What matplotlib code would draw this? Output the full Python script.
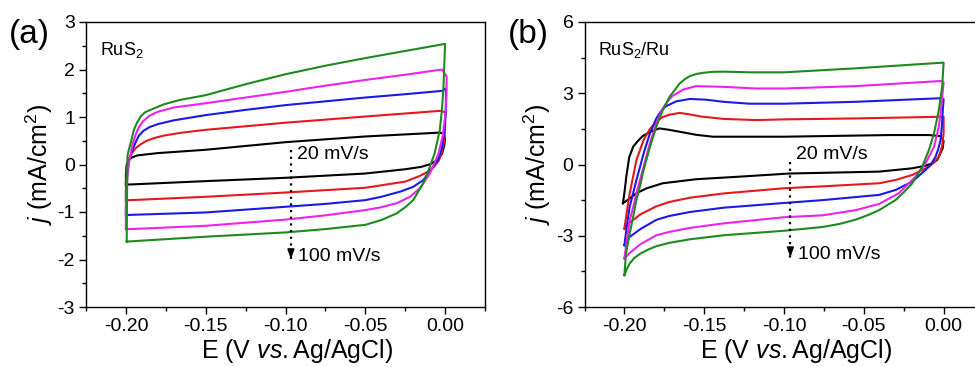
import matplotlib
matplotlib.use("Agg")
import matplotlib.pyplot as plt
from matplotlib.ticker import MultipleLocator

plt.rcParams['font.family'] = ['Liberation Sans', 'DejaVu Sans']
plt.rcParams['mathtext.fontset'] = 'custom'
plt.rcParams['mathtext.rm'] = 'Liberation Sans'
plt.rcParams['mathtext.it'] = 'Liberation Sans:italic'
plt.rcParams['axes.unicode_minus'] = False

rates = ['20 mV/s', '40 mV/s', '60 mV/s', '80 mV/s', '100 mV/s']
colors = ['black', '#e8171c', '#1a1ae6', '#ee22ee', '#1e8a1e']

# (a) RuS2 : closed CV loops, E (V) and j (mA/cm2)
a_E_20 = [-0.2, -0.2, -0.1995, -0.198, -0.196, -0.193, -0.188, -0.18, -0.15, -0.1, -0.05, -0.004, -0.001, 0.0, -0.0005, -0.002, -0.005, -0.009, -0.015, -0.025, -0.05, -0.1, -0.15, -0.197, -0.2]
a_j_20 = [-0.42, -0.2, 0.0, 0.1, 0.15, 0.19, 0.21, 0.24, 0.31, 0.47, 0.59, 0.67, 0.66, 0.55, 0.4, 0.22, 0.09, 0.01, -0.05, -0.1, -0.19, -0.28, -0.35, -0.42, -0.42]
a_E_40 = [-0.2, -0.2, -0.1995, -0.198, -0.196, -0.194, -0.191, -0.187, -0.182, -0.176, -0.165, -0.15, -0.1, -0.05, -0.003, 0.0, 0.0, -0.0005, -0.002, -0.004, -0.007, -0.0096, -0.0158, -0.025, -0.05, -0.1, -0.15, -0.197, -0.2]
a_j_40 = [-0.75, -0.4, -0.05, 0.12, 0.25, 0.34, 0.42, 0.5, 0.56, 0.61, 0.67, 0.73, 0.88, 1.01, 1.13, 1.1, 0.8, 0.5, 0.25, 0.08, -0.05, -0.13, -0.24, -0.36, -0.49, -0.59, -0.68, -0.75, -0.75]
a_E_60 = [-0.2, -0.2, -0.1995, -0.198, -0.196, -0.194, -0.192, -0.189, -0.185, -0.18, -0.17, -0.15, -0.125, -0.1, -0.075, -0.05, -0.025, -0.002, 0.0005, 0.0005, -0.0005, -0.002, -0.004, -0.0075, -0.0137, -0.02, -0.028, -0.04, -0.05, -0.075, -0.1, -0.15, -0.197, -0.2]
a_j_60 = [-1.07, -0.6, -0.2, 0.1, 0.3, 0.46, 0.6, 0.71, 0.79, 0.85, 0.93, 1.04, 1.15, 1.25, 1.33, 1.41, 1.48, 1.55, 1.6, 1.1, 0.7, 0.35, 0.12, -0.05, -0.33, -0.47, -0.57, -0.68, -0.75, -0.83, -0.89, -1.01, -1.06, -1.07]
a_E_80 = [-0.2, -0.2, -0.1995, -0.198, -0.196, -0.194, -0.192, -0.189, -0.185, -0.18, -0.17, -0.15, -0.125, -0.1, -0.075, -0.05, -0.025, -0.002, 0.001, 0.0008, 0.0, -0.0015, -0.004, -0.007, -0.0096, -0.0158, -0.022, -0.03, -0.04, -0.05, -0.075, -0.1, -0.15, -0.197, -0.2]
a_j_80 = [-1.36, -0.9, -0.4, 0.05, 0.4, 0.62, 0.78, 0.92, 1.03, 1.11, 1.2, 1.29, 1.41, 1.53, 1.66, 1.78, 1.89, 2.0, 1.85, 1.4, 1.0, 0.6, 0.25, 0.0, -0.19, -0.5, -0.68, -0.81, -0.9, -0.96, -1.07, -1.16, -1.29, -1.36, -1.36]
a_E_100 = [-0.1995, -0.1993, -0.199, -0.198, -0.197, -0.195, -0.193, -0.1908, -0.188, -0.1825, -0.176, -0.166, -0.15, -0.125, -0.1, -0.075, -0.05, -0.025, 0.0, -0.0005, -0.001, -0.002, -0.0033, -0.0065, -0.0096, -0.0137, -0.017, -0.02, -0.025, -0.0304, -0.04, -0.05, -0.075, -0.1, -0.15, -0.198, -0.1995]
a_j_100 = [-1.62, -0.7, 0.19, 0.33, 0.45, 0.73, 0.88, 1.01, 1.1, 1.18, 1.27, 1.36, 1.46, 1.69, 1.9, 2.08, 2.24, 2.39, 2.54, 2.1, 1.64, 1.15, 0.73, 0.24, -0.05, -0.4, -0.58, -0.75, -0.9, -1.03, -1.17, -1.27, -1.36, -1.43, -1.52, -1.62, -1.62]

# (b) RuS2/Ru
b_E_20 = [-0.2009, -0.2, -0.1988, -0.197, -0.1945, -0.1917, -0.1885, -0.1855, -0.182, -0.178, -0.172, -0.1654, -0.155, -0.1446, -0.1, -0.034, -0.0092, -0.002, 0.0, -0.0005, -0.002, -0.004, -0.0075, -0.0113, -0.0196, -0.0404, -0.0967, -0.125, -0.155, -0.176, -0.186, -0.1925, -0.197, -0.2009]
b_j_20 = [-1.63, -1.2, -0.51, 0.3, 0.75, 0.98, 1.2, 1.31, 1.43, 1.52, 1.46, 1.38, 1.25, 1.17, 1.17, 1.24, 1.24, 1.2, 1.0, 0.7, 0.47, 0.19, 0.04, -0.05, -0.16, -0.3, -0.38, -0.5, -0.62, -0.79, -1.0, -1.21, -1.45, -1.63]
b_E_40 = [-0.2, -0.1985, -0.1967, -0.1945, -0.1925, -0.19, -0.188, -0.184, -0.18, -0.176, -0.1717, -0.1654, -0.16, -0.152, -0.138, -0.1175, -0.1, -0.055, -0.002, 0.0, 0.0, -0.001, -0.003, -0.006, -0.0092, -0.0196, -0.03, -0.0404, -0.0758, -0.1, -0.138, -0.159, -0.172, -0.18, -0.19, -0.1967, -0.2]
b_j_40 = [-2.7, -2.0, -1.22, -0.5, 0.18, 0.65, 1.03, 1.5, 1.8, 2.0, 2.1, 2.17, 2.12, 2.02, 1.92, 1.87, 1.9, 1.94, 2.01, 2.01, 1.31, 0.75, 0.33, 0.08, -0.09, -0.44, -0.65, -0.79, -0.92, -1.0, -1.22, -1.4, -1.58, -1.76, -2.1, -2.45, -2.7]
b_E_60 = [-0.2, -0.1985, -0.1967, -0.1945, -0.1925, -0.19, -0.188, -0.184, -0.18, -0.177, -0.174, -0.1675, -0.159, -0.149, -0.138, -0.1217, -0.1, -0.055, -0.0019, 0.0, -0.0005, -0.001, -0.0019, -0.0035, -0.005, -0.008, -0.0113, -0.0196, -0.03, -0.0404, -0.0758, -0.1, -0.138, -0.159, -0.172, -0.18, -0.19, -0.1967, -0.2]
b_j_60 = [-3.4, -2.6, -1.78, -1.2, -0.66, -0.05, 0.46, 1.31, 1.94, 2.25, 2.45, 2.66, 2.76, 2.73, 2.64, 2.56, 2.56, 2.64, 2.79, 2.75, 2.29, 1.7, 1.03, 0.62, 0.33, 0.0, -0.23, -0.72, -1.07, -1.28, -1.5, -1.62, -1.82, -2.0, -2.17, -2.33, -2.72, -3.05, -3.4]
b_E_80 = [-0.2, -0.1985, -0.1967, -0.1945, -0.1925, -0.19, -0.188, -0.184, -0.18, -0.176, -0.173, -0.17, -0.163, -0.155, -0.138, -0.1175, -0.1, -0.055, -0.0009, 0.0, -0.0005, -0.001, -0.002, -0.003, -0.006, -0.0113, -0.0175, -0.028, -0.0404, -0.055, -0.0758, -0.1, -0.138, -0.159, -0.172, -0.18, -0.19, -0.1967, -0.2]
b_j_80 = [-3.96, -3.2, -2.35, -1.8, -1.22, -0.6, -0.1, 0.89, 1.73, 2.36, 2.65, 2.88, 3.16, 3.3, 3.27, 3.2, 3.2, 3.3, 3.52, 3.45, 3.1, 2.72, 2.1, 1.59, 0.75, 0.05, -0.51, -1.21, -1.66, -1.92, -2.14, -2.22, -2.48, -2.67, -2.84, -2.98, -3.36, -3.72, -3.96]
b_E_100 = [-0.2, -0.199, -0.1967, -0.1945, -0.1925, -0.19, -0.188, -0.184, -0.18, -0.176, -0.1717, -0.1654, -0.162, -0.159, -0.155, -0.1508, -0.145, -0.138, -0.12, -0.1, -0.055, 0.0, -0.0009, -0.003, -0.006, -0.0092, -0.0134, -0.0196, -0.025, -0.03, -0.0404, -0.047, -0.055, -0.065, -0.0758, -0.1, -0.138, -0.159, -0.172, -0.18, -0.185, -0.19, -0.194, -0.1967, -0.1985, -0.2]
b_j_100 = [-4.66, -3.75, -2.91, -2.2, -1.5, -0.85, -0.24, 0.74, 1.59, 2.29, 2.85, 3.41, 3.6, 3.72, 3.81, 3.86, 3.9, 3.91, 3.88, 3.88, 4.05, 4.29, 3.28, 2.29, 1.31, 0.61, -0.09, -0.79, -1.17, -1.49, -1.92, -2.12, -2.32, -2.5, -2.63, -2.79, -2.98, -3.15, -3.3, -3.44, -3.58, -3.75, -3.95, -4.17, -4.4, -4.66]

a_curves = [(a_E_20, a_j_20), (a_E_40, a_j_40), (a_E_60, a_j_60), (a_E_80, a_j_80), (a_E_100, a_j_100)]
b_curves = [(b_E_20, b_j_20), (b_E_40, b_j_40), (b_E_60, b_j_60), (b_E_80, b_j_80), (b_E_100, b_j_100)]

fig = plt.figure(figsize=(9.75, 3.67), dpi=100)
ax_a = fig.add_axes([86/975, 60/367, 399/975, 285/367])
ax_b = fig.add_axes([584.5/975, 60/367, 399/975, 285/367])


def style(ax, ylim, ystep, arrow_x, arrow_top, arrow_tip, txt_top, txt_bot, title, panel):
    ax.set_xlim(-0.225, 0.025)
    ax.set_ylim(*ylim)
    ax.xaxis.set_major_locator(MultipleLocator(0.05))
    ax.xaxis.set_minor_locator(MultipleLocator(0.025))
    ax.yaxis.set_major_locator(MultipleLocator(ystep))
    ax.yaxis.set_minor_locator(MultipleLocator(ystep / 2))
    ax.xaxis.set_major_formatter(plt.FormatStrFormatter('%.2f'))
    ax.tick_params(which='both', direction='out', top=False, right=False, labelsize=14, width=1, pad=3)
    ax.tick_params(which='major', length=5)
    ax.tick_params(which='minor', length=3)
    for s in ax.spines.values():
        s.set_linewidth(1)
    ax.set_xlabel(r'$\mathrm{E\ (V\ }\mathit{vs.}\mathrm{Ag/AgCl)}$', fontsize=18)
    ax.set_ylabel(r'$\mathit{j}$ (mA/cm$^2$)', fontsize=18, labelpad=2)
    ax.xaxis.set_label_coords(0.53, -0.105)
    ax.plot([arrow_x, arrow_x], [arrow_top, arrow_tip], ls=(0, (1, 2)), color='black', lw=1.6)
    ax.annotate('', xy=(arrow_x, arrow_tip), xytext=(arrow_x, arrow_tip + (ylim[1] - ylim[0]) * 0.045),
                arrowprops=dict(arrowstyle='-|>,head_length=0.55,head_width=0.2', color='black', lw=1.2))
    ax.text(arrow_x + 0.0035, txt_top, rates[0], fontsize=14, va='center', ha='left')
    ax.text(arrow_x + 0.0045, txt_bot, rates[-1], fontsize=14, va='center', ha='left')
    ax.text(0.035, 0.90, title, transform=ax.transAxes, fontsize=13, va='center', ha='left')
    fig.text(ax.get_position().x0 - 0.058, 0.905, panel, fontsize=24, va='center', ha='center')


for (E, j), c in zip(a_curves, colors):
    ax_a.plot(E, j, color=c, lw=1.5)
for (E, j), c in zip(b_curves, colors):
    ax_b.plot(E, j, color=c, lw=1.5)

style(ax_a, (-3, 3), 1, -0.0966, 0.31, -2.05, 0.22, -1.94, 'RuS$_2$', '(a)')
style(ax_b, (-6, 6), 3, -0.096, 0.12, -4.02, 0.44, -3.81, 'RuS$_2$/Ru', '(b)')

fig.savefig('out.png', dpi=100)
